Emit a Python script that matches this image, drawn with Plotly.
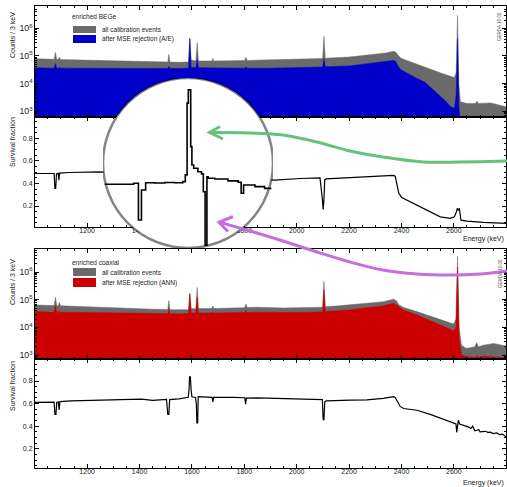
import plotly.graph_objects as go

W, H = 507, 487
FONT = "Liberation Sans"

# ---------------- data ----------------
# enriched BEGe: counts / 3 keV
bege_energy = [1000, 1040, 1074, 1079, 1084, 1090, 1094, 1098, 1150, 1200,
               1250, 1300, 1350, 1400, 1450, 1508, 1512, 1516, 1550, 1587,
               1592, 1597, 1615, 1620, 1625, 1676, 1680, 1684, 1750, 1801,
               1806, 1811, 1900, 2000, 2099, 2104, 2109, 2200, 2300, 2340,
               2370, 2378, 2388, 2398, 2420, 2458, 2490, 2509, 2530, 2548,
               2570, 2586, 2602, 2609, 2614, 2619, 2625, 2650, 2682, 2688,
               2694, 2740, 2800]
bege_all = [79400, 75900, 75900, 134900, 75900, 74100, 91200, 74100, 72400, 70800,
            69200, 67600, 64600, 63100, 61700, 60300, 114800, 60300, 58900, 60300,
            446700, 70800, 66100, 302000, 66100, 66100, 81300, 66100, 67600, 69200,
            89100, 69200, 72400, 75900, 81300, 512900, 83200, 91200, 112200, 128800,
            147900, 138000, 104700, 83200, 69200, 50100, 39800, 32400, 28200, 24500,
            20900, 18600, 16600, 25100, 2951000, 10000, 2190, 1910, 1910, 2290,
            1910, 2000, 1450]
bege_mse = [37200, 36300, 36300, 52500, 36300, 36300, 39800, 36300, 36300, 36300,
            35500, 35500, 35500, 35500, 35500, 35500, 41700, 35500, 35500, 36300,
            416900, 38000, 37200, 74100, 37200, 36300, 38000, 36300, 36300, 36300,
            39800, 36300, 36300, 38000, 39800, 79400, 40700, 43700, 57500, 64600,
            69200, 63100, 41700, 31600, 24000, 15500, 11200, 7590, 5250, 3550,
            2240, 1510, 1260, 3980, 426600, 1580, 316, 316, 316, 316,
            316, 316, 316]

# enriched BEGe: survival fraction
sf_bege_energy = [1000, 1040, 1074, 1077, 1080, 1083, 1090, 1092, 1095, 1130,
                  1180, 1248, 1300, 1400, 1452, 1500, 1508, 1511, 1513, 1520,
                  1535, 1552, 1568, 1582, 1586, 1589, 1591, 1595, 1597, 1600,
                  1607, 1613, 1616, 1619, 1622, 1624, 1635, 1657, 1674, 1679,
                  1683, 1702, 1718, 1728, 1800, 1806, 1810, 1880, 1917, 2013,
                  2089, 2098, 2101, 2104, 2107, 2112, 2204, 2330, 2369, 2376,
                  2382, 2390, 2401, 2433, 2471, 2509, 2548, 2586, 2602, 2610,
                  2613, 2617, 2621, 2627, 2650, 2713, 2760, 2800]
sf_bege = [0.488, 0.487, 0.488, 0.356, 0.356, 0.485, 0.490, 0.429, 0.492, 0.497,
           0.497, 0.503, 0.495, 0.493, 0.489, 0.493, 0.351, 0.351, 0.467, 0.495,
           0.494, 0.496, 0.495, 0.499, 0.525, 0.802, 0.853, 0.634, 0.563, 0.551,
           0.537, 0.529, 0.460, 0.254, 0.518, 0.512, 0.509, 0.502, 0.497, 0.454,
           0.486, 0.480, 0.473, 0.470, 0.450, 0.410, 0.445, 0.435, 0.429, 0.444,
           0.450, 0.260, 0.170, 0.260, 0.432, 0.440, 0.453, 0.465, 0.471, 0.465,
           0.400, 0.311, 0.276, 0.237, 0.193, 0.149, 0.104, 0.090, 0.104, 0.150,
           0.179, 0.160, 0.180, 0.075, 0.066, 0.055, 0.050, 0.046]

# enriched coaxial: counts / 3 keV
coax_energy = [1000, 1040, 1074, 1079, 1084, 1090, 1094, 1098, 1150, 1200,
               1250, 1300, 1350, 1400, 1450, 1508, 1512, 1516, 1550, 1587,
               1592, 1597, 1615, 1620, 1625, 1676, 1680, 1684, 1750, 1801,
               1806, 1811, 1850, 1900, 1950, 2000, 2050, 2099, 2104, 2109,
               2150, 2200, 2250, 2300, 2331, 2369, 2380, 2390, 2408, 2459,
               2510, 2561, 2599, 2608, 2614, 2620, 2629, 2648, 2680, 2687,
               2694, 2713, 2751, 2800]
coax_all = [64600, 63100, 61700, 123000, 61700, 60300, 81300, 60300, 57500, 56200,
            53700, 51300, 49000, 46800, 45700, 44700, 93300, 43700, 42700, 43700,
            173800, 47900, 46800, 275400, 47900, 47900, 60300, 47900, 50100, 51300,
            69200, 52500, 53700, 51300, 50100, 51300, 52500, 53700, 457100, 56200,
            58900, 64600, 70800, 77600, 85100, 104700, 93300, 66100, 52500, 37200,
            25700, 17000, 13200, 20000, 3631000, 10000, 2290, 1740, 2000, 2820,
            2000, 2290, 2630, 2140]
coax_mse = [37200, 36300, 35500, 61700, 35500, 35500, 39800, 35500, 34700, 33900,
            33900, 33100, 32400, 32400, 31600, 31600, 49000, 30900, 30900, 31600,
            158500, 33100, 33100, 123000, 33100, 33100, 35500, 33100, 33900, 34700,
            39800, 34700, 35500, 34700, 33900, 34700, 35500, 36300, 229100, 37200,
            39800, 42700, 49000, 55000, 60300, 74100, 66100, 55000, 42700, 28200,
            17400, 10700, 7590, 10000, 1514000, 3980, 1000, 871, 832, 933,
            832, 912, 851, 794]

# enriched coaxial: survival fraction
sf_coax_energy = [1000, 1040, 1074, 1077, 1081, 1084, 1090, 1093, 1096, 1140,
                  1240, 1318, 1407, 1450, 1503, 1508, 1512, 1515, 1550, 1586,
                  1589, 1591, 1594, 1597, 1600, 1614, 1617, 1619, 1622, 1624,
                  1670, 1677, 1680, 1683, 1758, 1802, 1805, 1808, 1849, 1949,
                  2076, 2098, 2101, 2104, 2107, 2114, 2204, 2268, 2331, 2369,
                  2376, 2382, 2395, 2408, 2459, 2510, 2540, 2561, 2580, 2599,
                  2608, 2611, 2614, 2617, 2622, 2632, 2645, 2657, 2665, 2672,
                  2680, 2687, 2695, 2700, 2713, 2720, 2730, 2739, 2750, 2764,
                  2775, 2785, 2796, 2800]
sf_coax = [0.611, 0.612, 0.614, 0.505, 0.505, 0.612, 0.615, 0.544, 0.618, 0.625,
           0.631, 0.634, 0.640, 0.628, 0.637, 0.505, 0.505, 0.635, 0.642, 0.656,
           0.720, 0.836, 0.836, 0.720, 0.660, 0.655, 0.590, 0.430, 0.430, 0.661,
           0.656, 0.656, 0.616, 0.655, 0.656, 0.652, 0.595, 0.648, 0.650, 0.647,
           0.640, 0.636, 0.460, 0.455, 0.615, 0.625, 0.631, 0.634, 0.647, 0.661,
           0.655, 0.625, 0.575, 0.557, 0.541, 0.505, 0.480, 0.460, 0.445, 0.424,
           0.420, 0.346, 0.400, 0.454, 0.420, 0.413, 0.400, 0.392, 0.380, 0.400,
           0.360, 0.362, 0.370, 0.350, 0.350, 0.355, 0.345, 0.347, 0.335, 0.340,
           0.325, 0.330, 0.311, 0.310]

energy_range = [1001, 2799]
counts_log_range_bege = [2.79, 6.81]
counts_log_range_coax = [2.86, 6.83]
sf_range_bege = [0.014, 0.989]
sf_range_coax = [0.03, 0.995]
magnifier_energy_range = [1449, 1732]
magnifier_sf_range = [0.243, 0.899]

# ---------------- styling / layout helpers ----------------
GRAY = "#6a6a6a"
BLUE = "#0000c8"
RED = "#cc0000"
GREEN = "#66c27a"
PURPLE = "#c46fdb"
TXT = "#222222"


def px_x(p):
    return p / W


def px_y(p):
    return 1 - p / H


X0, X1 = 35, 506
P1 = (6, 117)
P2 = (117, 227)
P3 = (249, 359)
P4 = (359, 468)
MAG_CX, MAG_CY, MAG_R = 188, 163, 85

fig = go.Figure()

# BEGe spectra
fig.add_trace(go.Scatter(x=bege_energy, y=bege_all, mode="lines", fill="tozeroy",
                         fillcolor=GRAY, line=dict(color=GRAY, width=0.5),
                         xaxis="x", yaxis="y", hoverinfo="skip"))
fig.add_trace(go.Scatter(x=bege_energy, y=bege_mse, mode="lines", fill="tozeroy",
                         fillcolor=BLUE, line=dict(color=BLUE, width=0.5),
                         xaxis="x", yaxis="y", hoverinfo="skip"))
# BEGe survival
fig.add_trace(go.Scatter(x=sf_bege_energy, y=sf_bege, mode="lines",
                         line=dict(color="black", width=1.2),
                         xaxis="x2", yaxis="y2", hoverinfo="skip"))
# coax spectra
fig.add_trace(go.Scatter(x=coax_energy, y=coax_all, mode="lines", fill="tozeroy",
                         fillcolor=GRAY, line=dict(color=GRAY, width=0.5),
                         xaxis="x3", yaxis="y3", hoverinfo="skip"))
fig.add_trace(go.Scatter(x=coax_energy, y=coax_mse, mode="lines", fill="tozeroy",
                         fillcolor=RED, line=dict(color=RED, width=0.5),
                         xaxis="x3", yaxis="y3", hoverinfo="skip"))
# coax survival
fig.add_trace(go.Scatter(x=sf_coax_energy, y=sf_coax, mode="lines",
                         line=dict(color="black", width=1.2),
                         xaxis="x4", yaxis="y4", hoverinfo="skip"))
# magnifier: zoomed view of the BEGe survival fraction
mag_E = [e for e in sf_bege_energy if magnifier_energy_range[0] <= e <= magnifier_energy_range[1]]
mag_sf = [v for e, v in zip(sf_bege_energy, sf_bege)
          if magnifier_energy_range[0] <= e <= magnifier_energy_range[1]]
fig.add_trace(go.Scatter(x=mag_E, y=mag_sf, mode="lines", line_shape="hv",
                         line=dict(color="black", width=1.6),
                         xaxis="x5", yaxis="y5", hoverinfo="skip"))

tickfont = dict(family=FONT, size=7, color=TXT)
xdomain = [px_x(X0), px_x(X1)]


def xaxis(anchor, labels):
    return dict(domain=xdomain, range=energy_range, anchor=anchor,
                showline=True, linecolor="black", linewidth=1, mirror="ticks",
                ticks="inside", ticklen=4, tickcolor="black", tickwidth=1,
                tick0=1000, dtick=200, showticklabels=labels, tickfont=tickfont,
                minor=dict(ticks="inside", ticklen=2, dtick=50, tick0=1000,
                           tickcolor="black", showgrid=False),
                showgrid=False, zeroline=False, ticklabelstandoff=-3)


def ylog(anchor, dom, rng):
    return dict(domain=[px_y(dom[1]), px_y(dom[0])], anchor=anchor, type="log",
                range=rng, showline=True, linecolor="black", linewidth=1,
                mirror="ticks", ticks="inside", ticklen=4, tickcolor="black",
                dtick=1, exponentformat="power", tickfont=tickfont,
                minor=dict(ticks="inside", ticklen=2, dtick="D1",
                           tickcolor="black", showgrid=False),
                showgrid=False, zeroline=False)


def ylin(anchor, dom, rng):
    return dict(domain=[px_y(dom[1]), px_y(dom[0])], anchor=anchor,
                range=rng, showline=True, linecolor="black", linewidth=1,
                mirror="ticks", ticks="inside", ticklen=4, tickcolor="black",
                tick0=0, dtick=0.2, tickformat=".1f", tickfont=tickfont,
                minor=dict(ticks="inside", ticklen=2, dtick=0.05, tick0=0,
                           tickcolor="black", showgrid=False),
                showgrid=False, zeroline=False)


annotations = []


def text(x, y, s, size=6.5, xanchor="left", yanchor="middle", angle=0, color=TXT):
    annotations.append(dict(x=px_x(x), y=px_y(y), xref="paper", yref="paper",
                            text=s, showarrow=False, xanchor=xanchor,
                            yanchor=yanchor, textangle=angle,
                            font=dict(family=FONT, size=size, color=color)))


# axis titles
text(12, 35, "Counts / 3 keV", size=7, xanchor="center", yanchor="middle", angle=-90)
text(12, 142, "Survival fraction", size=7, xanchor="center", yanchor="middle", angle=-90)
text(12, 282, "Counts / 3 keV", size=7, xanchor="center", yanchor="middle", angle=-90)
text(12, 386, "Survival fraction", size=7, xanchor="center", yanchor="middle", angle=-90)
text(506, 239, "Energy (keV)", size=7, xanchor="right")
text(506, 483, "Energy (keV)", size=7, xanchor="right")
# watermarks
text(500, 27, "GERDA 16-06", size=4.5, xanchor="center", angle=-90, color="#555")
text(500, 274, "GERDA 16-06", size=4.5, xanchor="center", angle=-90, color="#555")

shapes = []


def rect(x0, y0, x1, y1, color):
    shapes.append(dict(type="rect", xref="paper", yref="paper",
                       x0=px_x(x0), x1=px_x(x1), y0=px_y(y1), y1=px_y(y0),
                       fillcolor=color, line=dict(width=0), layer="above"))


# legends
text(70, 16, "enriched BEGe")
rect(73, 26, 96, 33, GRAY)
text(100, 29.5, "all calibration events")
rect(73, 35, 96, 43, BLUE)
text(100, 39, "after MSE rejection (A/E)")

text(70, 262, "enriched coaxial")
rect(73, 268, 96, 276, GRAY)
text(100, 272, "all calibration events")
rect(73, 278, 96, 287, RED)
text(100, 282.5, "after MSE rejection (ANN)")

# magnifier lens: white disc in the magnifier subplot (below its trace), rim on top
shapes.append(dict(type="circle", xref="x5", yref="y5",
                   x0=magnifier_energy_range[0], x1=magnifier_energy_range[1],
                   y0=magnifier_sf_range[0], y1=magnifier_sf_range[1],
                   fillcolor="white", line=dict(width=0), layer="below"))
shapes.append(dict(type="circle", xref="x5", yref="y5",
                   x0=magnifier_energy_range[0], x1=magnifier_energy_range[1],
                   y0=magnifier_sf_range[0], y1=magnifier_sf_range[1],
                   fillcolor="rgba(0,0,0,0)", line=dict(color="rgba(0,0,0,0.48)", width=2.5),
                   layer="above"))


def smooth_path(pts):
    P = [(px_x(x), px_y(y)) for x, y in pts]
    d = "M%.5f,%.5f" % P[0]
    for i in range(len(P) - 1):
        p0 = P[i - 1] if i > 0 else P[i]
        p1, p2 = P[i], P[i + 1]
        p3 = P[i + 2] if i + 2 < len(P) else P[i + 1]
        c1 = (p1[0] + (p2[0] - p0[0]) / 6, p1[1] + (p2[1] - p0[1]) / 6)
        c2 = (p2[0] - (p3[0] - p1[0]) / 6, p2[1] - (p3[1] - p1[1]) / 6)
        d += " C%.5f,%.5f %.5f,%.5f %.5f,%.5f" % (c1 + c2 + p2)
    return d


def poly_path(pts):
    P = [(px_x(x), px_y(y)) for x, y in pts]
    return "M%.5f,%.5f" % P[0] + "".join(" L%.5f,%.5f" % p for p in P[1:])


green_curve = [(507, 161), (460, 162), (423, 162), (383, 157), (350, 151),
               (317, 142), (283, 135), (250, 133), (209, 132.5)]
green_head = [(220, 126.5), (209.5, 132.5), (223, 139)]
purple_curve = [(507, 271), (480, 274), (450, 275), (417, 274), (383, 270),
                (350, 262), (317, 252), (283, 241), (250, 231), (219, 222)]
purple_head = [(233, 216.5), (219, 222.3), (228, 231.5)]

for curve, head, col in [(green_curve, green_head, GREEN),
                         (purple_curve, purple_head, PURPLE)]:
    shapes.append(dict(type="path", xref="paper", yref="paper",
                       path=smooth_path(curve), line=dict(color=col, width=3),
                       layer="above"))
    shapes.append(dict(type="path", xref="paper", yref="paper",
                       path=poly_path(head), line=dict(color=col, width=3),
                       layer="above"))

fig.update_layout(
    width=W, height=H, margin=dict(l=0, r=0, t=0, b=0),
    paper_bgcolor="white", plot_bgcolor="rgba(0,0,0,0)", showlegend=False,
    font=dict(family=FONT, size=7, color=TXT),
    xaxis=xaxis("y", False), yaxis=ylog("x", P1, counts_log_range_bege),
    xaxis2=xaxis("y2", True), yaxis2=ylin("x2", P2, sf_range_bege),
    xaxis3=xaxis("y3", False), yaxis3=ylog("x3", P3, counts_log_range_coax),
    xaxis4=xaxis("y4", True), yaxis4=ylin("x4", P4, sf_range_coax),
    xaxis5=dict(domain=[px_x(MAG_CX - MAG_R), px_x(MAG_CX + MAG_R)],
                range=magnifier_energy_range, visible=False, anchor="y5"),
    yaxis5=dict(domain=[px_y(MAG_CY + MAG_R), px_y(MAG_CY - MAG_R)],
                range=magnifier_sf_range, visible=False, anchor="x5"),
    annotations=annotations, shapes=shapes,
)

fig.write_html("out.html",
               config={"displayModeBar": False, "staticPlot": True},
               post_script="document.body.style.margin='0px';"
                           "document.body.style.overflow='hidden';")
